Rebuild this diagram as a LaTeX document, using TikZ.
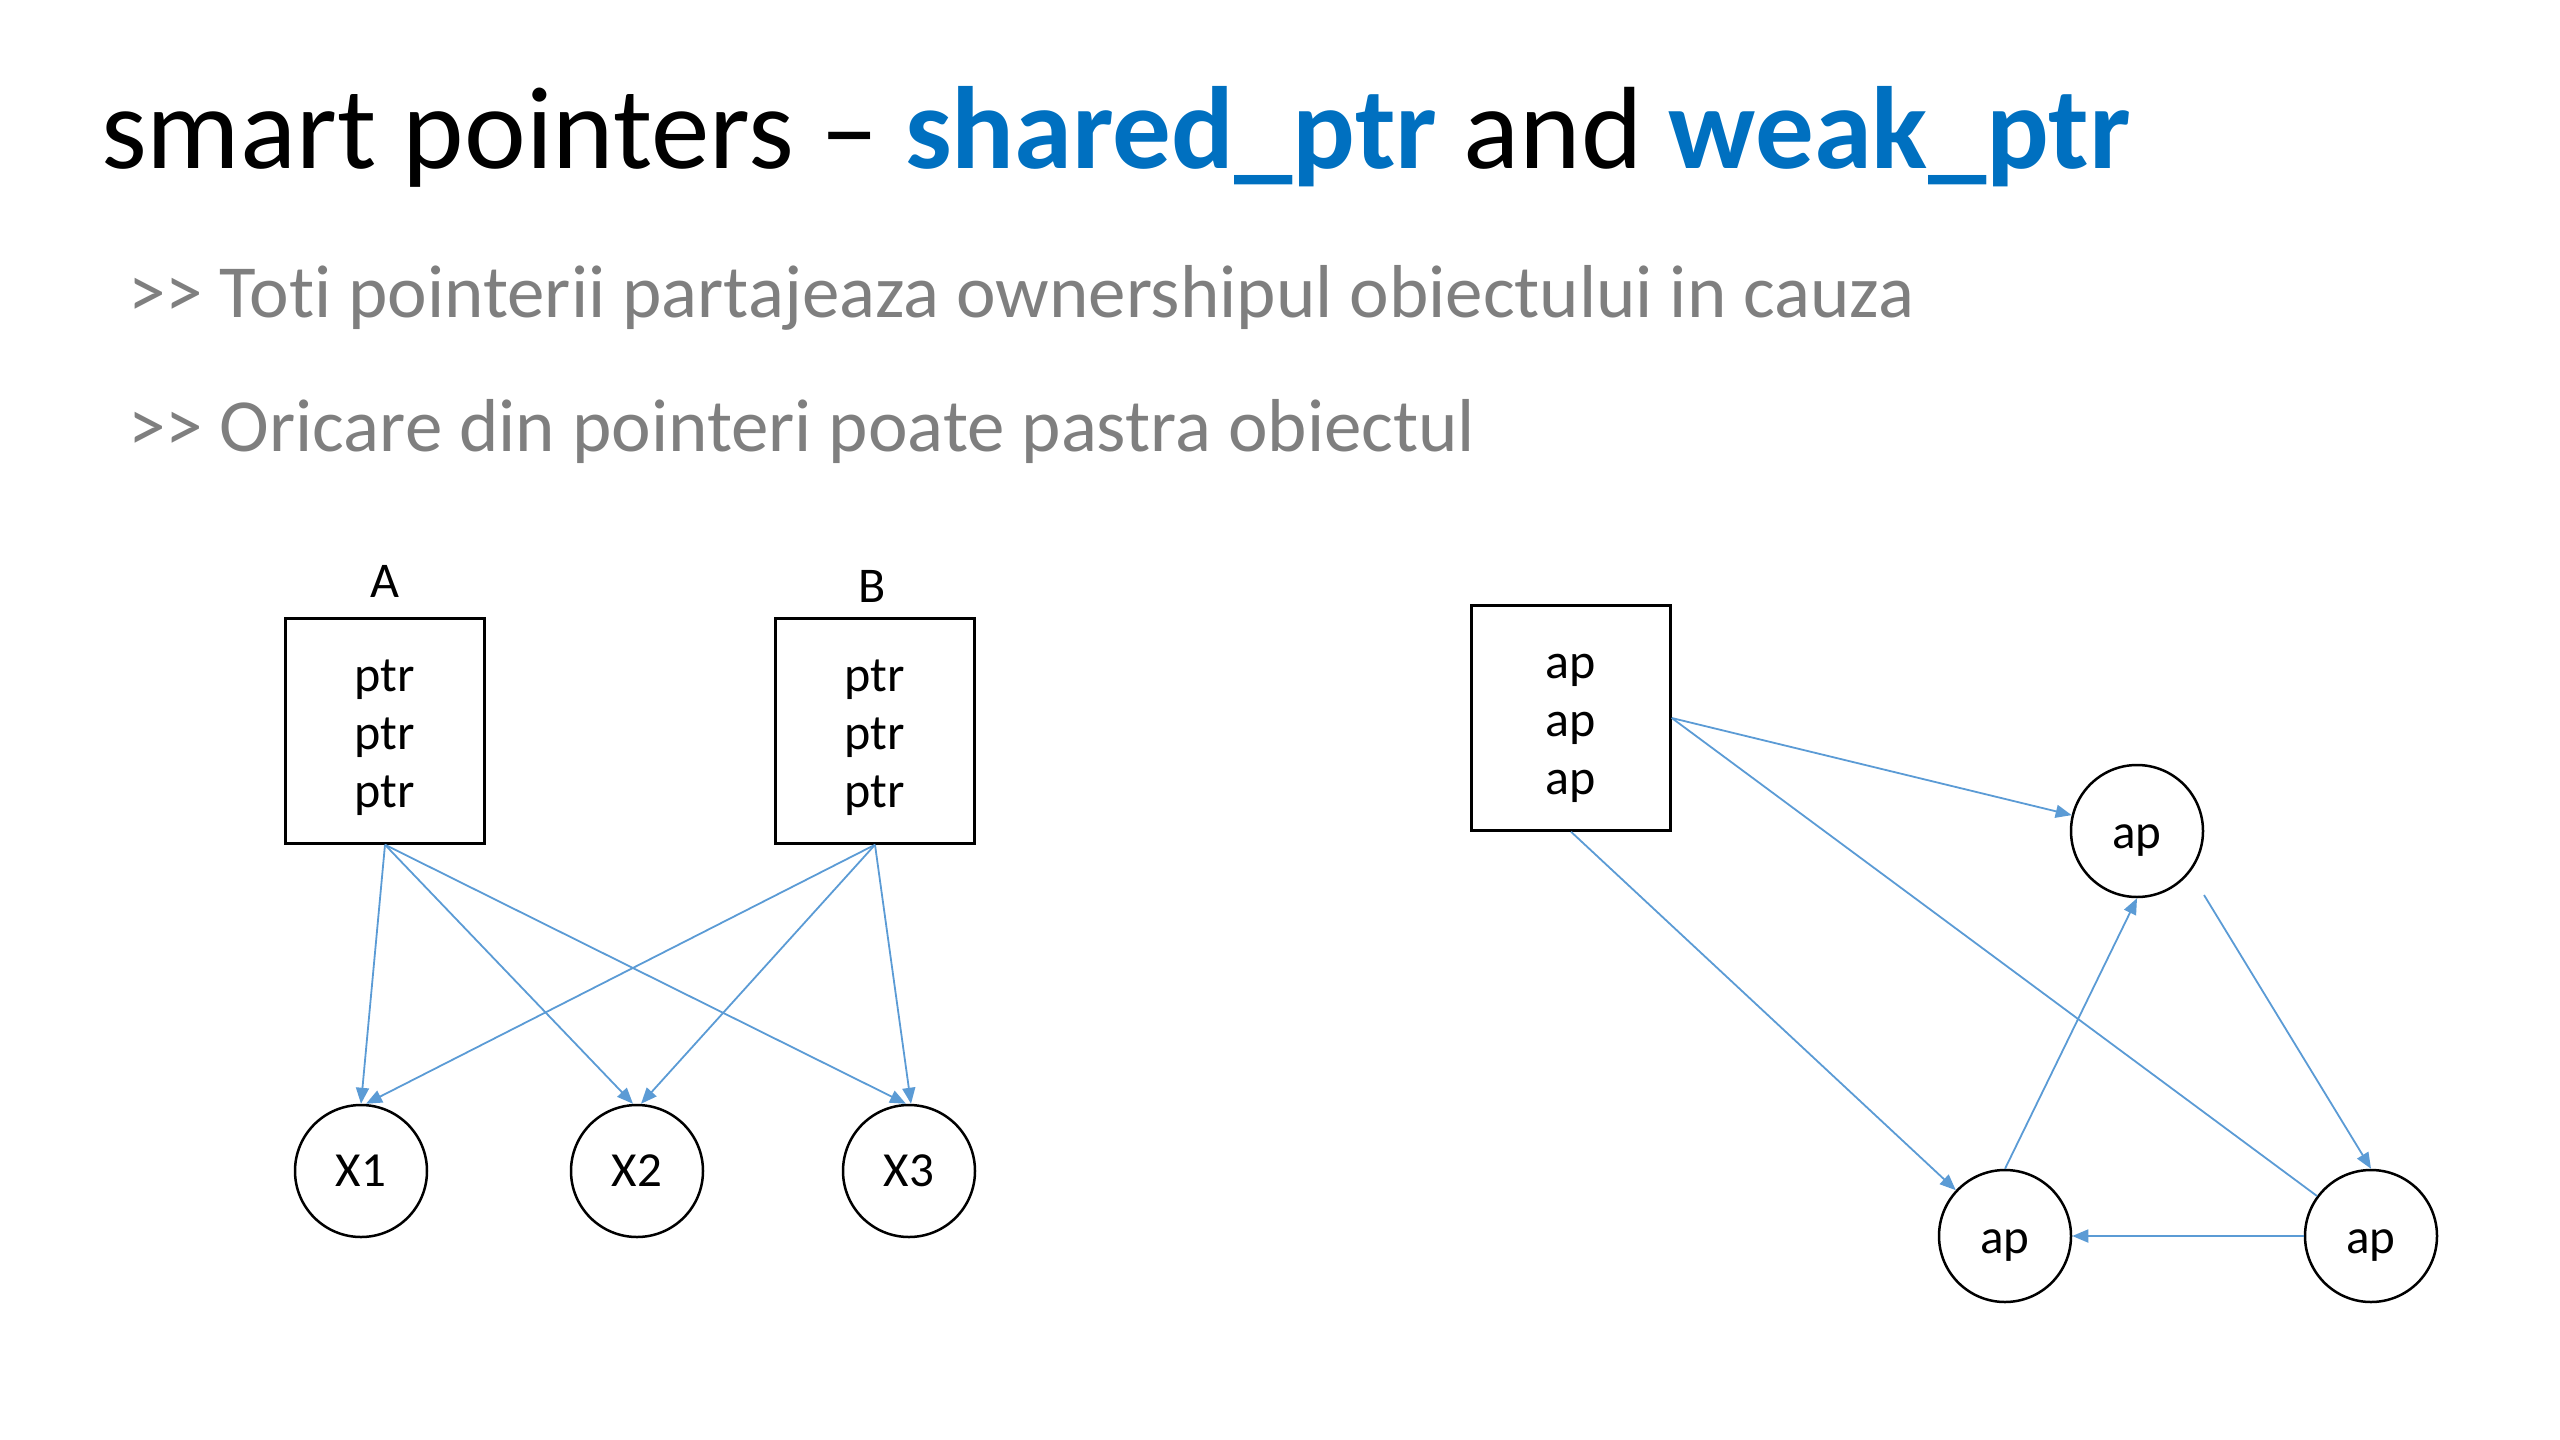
\documentclass[tikz,border=0pt]{standalone}
\usepackage{fontspec}
\setmainfont{Carlito}[Ligatures={CommonOff}]
\usetikzlibrary{arrows.meta}
\definecolor{titleblue}{HTML}{0070C0}
\definecolor{bulletgray}{HTML}{7F7F7F}
\definecolor{linkblue}{HTML}{5B9BD5}
\newcommand{\gtgt}{>\kern0pt>}
\newcommand{\firststrut}{\rule{0pt}{46pt}}
\newcommand{\apstrut}{\rule{0pt}{42pt}}
\begin{document}
\begin{tikzpicture}[x=1pt,y=-1pt,
  box/.style={draw=black, line width=2.5pt, minimum width=199pt, minimum height=225pt, inner sep=0pt, align=center, font=\fontsize{50}{58}\selectfont},
  obj/.style={circle, draw=black, line width=2.5pt, minimum size=132pt, inner sep=0pt, font=\fontsize{49}{60}\selectfont},
  lbl/.style={font=\fontsize{50}{60}\selectfont, inner sep=0pt},
  link/.style={draw=linkblue, line width=1.8pt, -{Triangle[length=16pt,width=13pt]}},
  weaklink/.style={draw=linkblue, line width=1.8pt},
  bullet/.style={anchor=base west, inner sep=0pt, text=bulletgray, font=\fontsize{75}{90}\selectfont}
]
\useasboundingbox (0,0) rectangle (2560,1440);

\node[anchor=base west, inner sep=0pt, font=\fontsize{117}{140}\selectfont] (title) at (101,168)
  {smart pointers – \textcolor{titleblue}{\textbf{shared\_ptr}} and \textcolor{titleblue}{\textbf{weak\_ptr}}};
\node[bullet] (b1) at (128,317) {\gtgt{} Toti pointerii partajeaza ownershipul obiectului in cauza};
\node[bullet] (b2) at (128,451) {\gtgt{} Oricare din pointeri poate pastra obiectul};

% left diagram
\node[box] (A) at (385,731) {\firststrut ptr\\ptr\\ptr};
\node[box] (B) at (875,731) {\firststrut ptr\\ptr\\ptr};
\node[lbl] (la) at (385,581) {A};
\node[lbl] (lb) at (872,586) {B};
\node[obj] (X1) at (361,1171) {X1};
\node[obj] (X2) at (637,1171) {X2};
\node[obj] (X3) at (909,1171) {X3};

\draw[link] (A.south) -- (X1.north);
\draw[link] (A.south) -- ([xshift=-4pt]X2.north);
\draw[link] (A.south) -- ([xshift=-3pt]X3.north);
\draw[link] (B.south) -- ([xshift=5pt]X1.north);
\draw[link] (B.south) -- ([xshift=4pt]X2.north);
\draw[link] (B.south) -- ([xshift=2pt]X3.north);

% right diagram
\node[box] (R) at (1571,718) {\firststrut ap\\ap\\ap};
\node[obj] (TR) at (2137,831) {\apstrut ap};
\node[obj] (BL) at (2005,1236) {\apstrut ap};
\node[obj] (BR) at (2371,1236) {\apstrut ap};
\coordinate (TRout) at (2204,895);

\draw[link] (R.east) -- (TR);
\draw[weaklink] (R.east) -- (BR);
\draw[link] (R.south) -- (BL);
\draw[link] (BL.north) -- (TR.south);
\draw[link] (TRout) -- (BR.north);
\draw[link] (BR.west) -- (BL.east);
\end{tikzpicture}
\end{document}
